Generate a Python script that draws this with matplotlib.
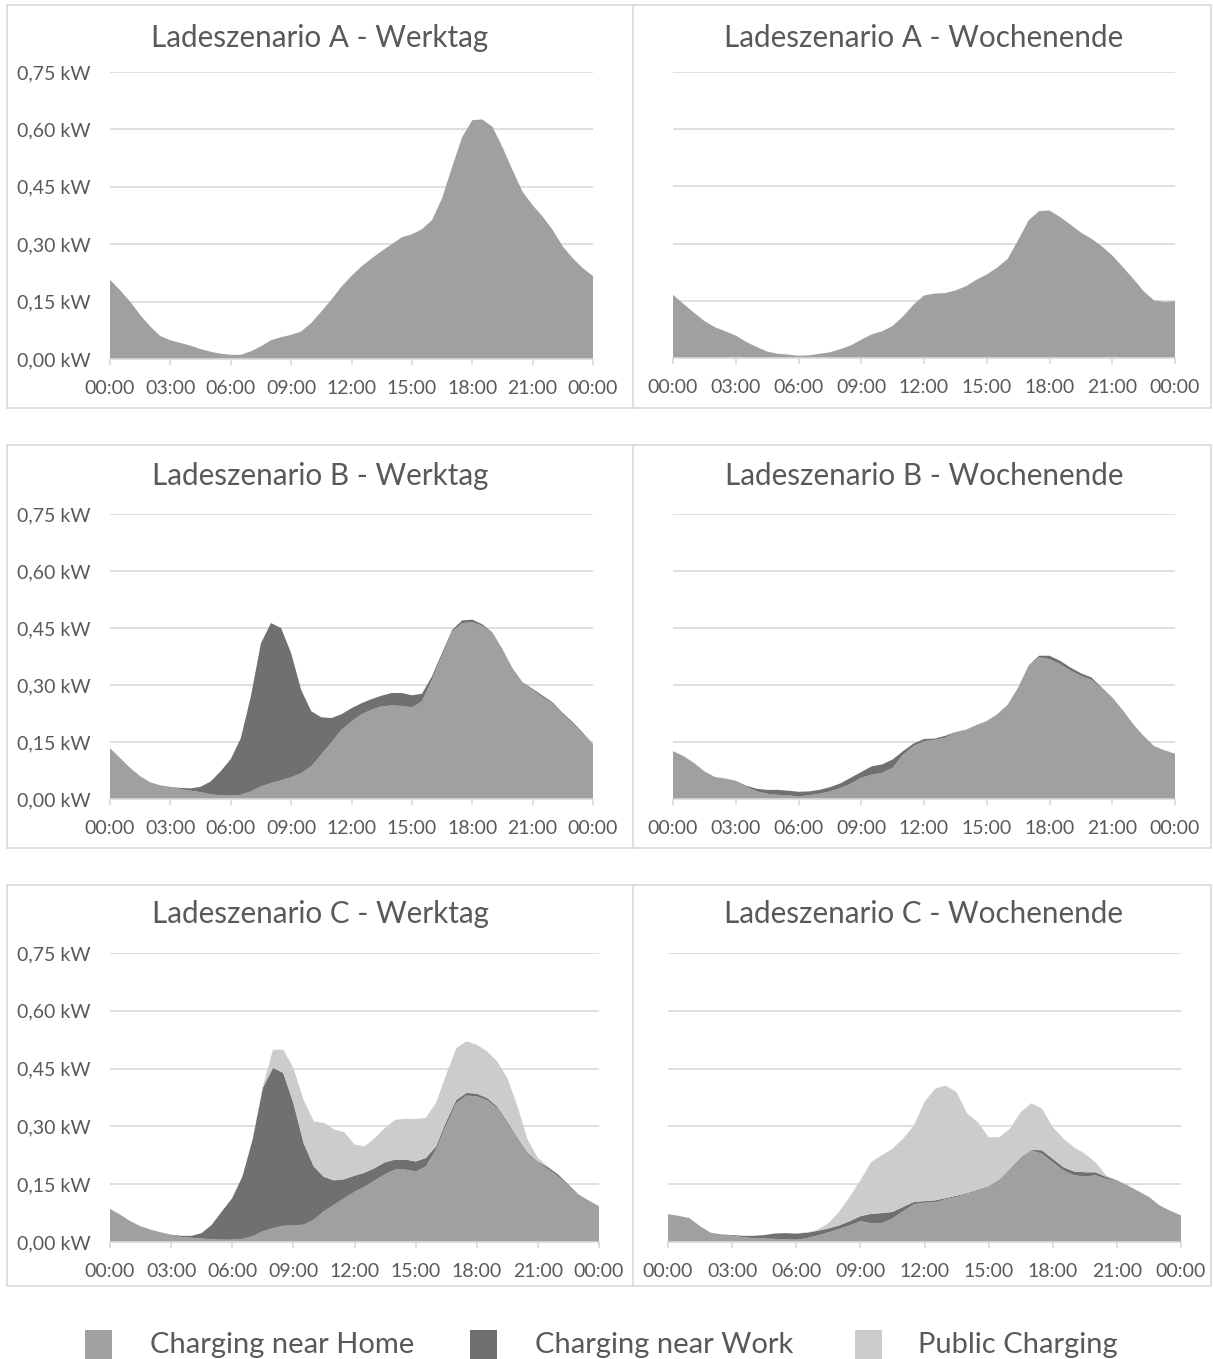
import matplotlib.pyplot as plt
from matplotlib.patches import Rectangle
from matplotlib.lines import Line2D
import numpy as np

plt.rcParams['font.family'] = ['Lato', 'DejaVu Sans']

# Zeitachse: halbstündlich von 00:00 bis 24:00
hours = np.arange(0, 24.5, 0.5)
xtick_pos = [0, 3, 6, 9, 12, 15, 18, 21, 24]
xtick_labels = ["00:00", "03:00", "06:00", "09:00", "12:00", "15:00", "18:00", "21:00", "00:00"]
ytick_pos = [0.0, 0.15, 0.30, 0.45, 0.60, 0.75]
ytick_labels = ["0,00 kW", "0,15 kW", "0,30 kW", "0,45 kW", "0,60 kW", "0,75 kW"]

series_names = ["Charging near Home", "Charging near Work", "Public Charging"]
colors = ["#A0A0A0", "#707070", "#CCCCCC"]

# Ladeszenario A
a_werktag_home = [0.207, 0.18, 0.15, 0.115, 0.085, 0.06, 0.049, 0.042, 0.035, 0.026,
                  0.019, 0.014, 0.011, 0.011, 0.02, 0.033, 0.049, 0.057, 0.063, 0.072,
                  0.094, 0.124, 0.155, 0.189, 0.217, 0.242, 0.263, 0.282, 0.30, 0.318,
                  0.326, 0.339, 0.363, 0.42, 0.502, 0.58, 0.624, 0.626, 0.607, 0.554,
                  0.494, 0.437, 0.402, 0.372, 0.337, 0.294, 0.263, 0.237, 0.217]
a_wochenende_home = [0.166, 0.142, 0.119, 0.097, 0.081, 0.070, 0.059, 0.042, 0.029, 0.017,
                     0.011, 0.009, 0.006, 0.007, 0.011, 0.015, 0.023, 0.033, 0.048, 0.062,
                     0.070, 0.084, 0.109, 0.140, 0.164, 0.169, 0.170, 0.177, 0.188, 0.205,
                     0.219, 0.237, 0.260, 0.309, 0.361, 0.385, 0.387, 0.370, 0.350, 0.329,
                     0.313, 0.293, 0.269, 0.239, 0.208, 0.175, 0.151, 0.147, 0.149]

# Ladeszenario B
b_werktag_home = [0.134, 0.108, 0.082, 0.060, 0.044, 0.036, 0.032, 0.026, 0.022, 0.018,
                  0.012, 0.010, 0.009, 0.011, 0.020, 0.033, 0.042, 0.049, 0.057, 0.068,
                  0.086, 0.117, 0.149, 0.182, 0.204, 0.223, 0.235, 0.244, 0.246, 0.245,
                  0.241, 0.257, 0.314, 0.377, 0.441, 0.463, 0.465, 0.456, 0.436, 0.391,
                  0.343, 0.305, 0.287, 0.268, 0.251, 0.223, 0.198, 0.171, 0.145]
b_werktag_work = [0, 0, 0, 0, 0, 0, 0, 0.003, 0.006, 0.014,
                  0.034, 0.063, 0.096, 0.149, 0.250, 0.377, 0.421, 0.401, 0.327, 0.219,
                  0.145, 0.098, 0.064, 0.041, 0.035, 0.029, 0.028, 0.028, 0.033, 0.034,
                  0.032, 0.020, 0.009, 0.007, 0.004, 0.007, 0.007, 0.004, 0.002, 0.003,
                  0.001, 0.002, 0.003, 0.004, 0.003, 0.003, 0.004, 0.003, 0.0]
b_wochenende_home = [0.126, 0.113, 0.095, 0.073, 0.058, 0.054, 0.047, 0.033, 0.020, 0.014,
                     0.011, 0.010, 0.006, 0.010, 0.014, 0.020, 0.029, 0.040, 0.056, 0.064,
                     0.069, 0.082, 0.117, 0.139, 0.152, 0.156, 0.161, 0.175, 0.181, 0.192,
                     0.204, 0.222, 0.247, 0.292, 0.350, 0.373, 0.368, 0.355, 0.338, 0.324,
                     0.314, 0.291, 0.265, 0.233, 0.196, 0.165, 0.138, 0.127, 0.118]
b_wochenende_work = [0, 0, 0, 0, 0, 0, 0.001, 0.002, 0.007, 0.010,
                     0.013, 0.012, 0.013, 0.010, 0.010, 0.011, 0.012, 0.016, 0.015, 0.022,
                     0.022, 0.022, 0.009, 0.007, 0.006, 0.003, 0.005, 0.001, 0.001, 0.002,
                     0.001, 0.001, 0.001, 0.001, 0.001, 0.004, 0.009, 0.009, 0.008, 0.007,
                     0.006, 0.002, 0.002, 0.001, 0.001, 0.001, 0.001, 0.001, 0.001]

# Ladeszenario C
c_werktag_home = [0.086, 0.071, 0.054, 0.041, 0.032, 0.025, 0.018, 0.013, 0.011, 0.009,
                  0.007, 0.006, 0.006, 0.008, 0.015, 0.028, 0.036, 0.042, 0.043, 0.045,
                  0.058, 0.080, 0.097, 0.114, 0.130, 0.144, 0.160, 0.176, 0.188, 0.188,
                  0.183, 0.196, 0.240, 0.304, 0.361, 0.380, 0.378, 0.368, 0.348, 0.309,
                  0.266, 0.227, 0.207, 0.189, 0.170, 0.146, 0.121, 0.105, 0.093]
c_werktag_work = [0, 0, 0, 0, 0, 0, 0.001, 0.003, 0.005, 0.014,
                  0.038, 0.074, 0.108, 0.162, 0.251, 0.372, 0.416, 0.397, 0.318, 0.212,
                  0.138, 0.089, 0.063, 0.049, 0.042, 0.036, 0.032, 0.031, 0.026, 0.026,
                  0.026, 0.022, 0.008, 0.009, 0.008, 0.007, 0.007, 0.006, 0.004, 0.004,
                  0.004, 0.004, 0.002, 0.005, 0.005, 0.003, 0.002, 0.002, 0.0]
c_werktag_public = [0, 0, 0, 0, 0, 0, 0, 0, 0, 0,
                    0, 0, 0, 0, 0, 0.004, 0.047, 0.060, 0.091, 0.112,
                    0.117, 0.140, 0.132, 0.122, 0.081, 0.068, 0.078, 0.089, 0.103, 0.106,
                    0.110, 0.104, 0.113, 0.121, 0.134, 0.134, 0.127, 0.121, 0.117, 0.113,
                    0.082, 0.034, 0.009, 0.002, 0, 0, 0, 0, 0]
c_wochenende_home = [0.072, 0.068, 0.062, 0.041, 0.024, 0.020, 0.016, 0.013, 0.010, 0.009,
                     0.008, 0.007, 0.006, 0.010, 0.017, 0.025, 0.034, 0.043, 0.054, 0.049,
                     0.049, 0.061, 0.080, 0.098, 0.102, 0.103, 0.111, 0.117, 0.125, 0.134,
                     0.143, 0.160, 0.188, 0.218, 0.238, 0.229, 0.207, 0.186, 0.173, 0.170,
                     0.173, 0.164, 0.158, 0.147, 0.132, 0.117, 0.095, 0.081, 0.069]
c_wochenende_work = [0, 0, 0, 0, 0, 0, 0.002, 0.003, 0.006, 0.009,
                     0.014, 0.016, 0.016, 0.014, 0.012, 0.010, 0.009, 0.011, 0.013, 0.024,
                     0.026, 0.017, 0.011, 0.006, 0.004, 0.005, 0.003, 0.003, 0.002, 0.002,
                     0.002, 0.002, 0.002, 0.002, 0.001, 0.009, 0.009, 0.008, 0.010, 0.011,
                     0.008, 0.005, 0.002, 0, 0, 0, 0, 0, 0]
c_wochenende_public = [0, 0, 0, 0, 0, 0, 0, 0, 0, 0,
                       0, 0, 0.001, 0.001, 0.003, 0.013, 0.035, 0.063, 0.093, 0.134,
                       0.150, 0.164, 0.177, 0.198, 0.257, 0.290, 0.292, 0.269, 0.206, 0.175,
                       0.127, 0.110, 0.104, 0.117, 0.121, 0.108, 0.082, 0.074, 0.063, 0.048,
                       0.026, 0.004, 0, 0, 0, 0, 0, 0, 0]

W, H = 1213, 1359
text_col = "#595959"
grid_col = "#D9D9D9"

fig = plt.figure(figsize=(W / 100, H / 100), dpi=100)

def px_axes(x0, x1, ytop, ybot):
    return fig.add_axes([x0 / W, 1 - ybot / H, (x1 - x0) / W, (ybot - ytop) / H])

panels = [
    # (x0, x1, ytop, ybot, title_y, title, stacks, y-labels)
    (110, 593, 72, 359, 38, "Ladeszenario A - Werktag", [a_werktag_home], True),
    (673, 1175, 72, 358, 38, "Ladeszenario A - Wochenende", [a_wochenende_home], False),
    (110, 593, 514, 799, 476, "Ladeszenario B - Werktag", [b_werktag_home, b_werktag_work], True),
    (673, 1175, 514, 799, 476, "Ladeszenario B - Wochenende",
     [b_wochenende_home, b_wochenende_work], False),
    (110, 599, 953, 1242, 914, "Ladeszenario C - Werktag",
     [c_werktag_home, c_werktag_work, c_werktag_public], True),
    (668, 1181, 953, 1242, 914, "Ladeszenario C - Wochenende",
     [c_wochenende_home, c_wochenende_work, c_wochenende_public], False),
]

title_x = {True: 320, False: 924}

for x0, x1, ytop, ybot, ty, title, stacks, show_y in panels:
    ax = px_axes(x0, x1, ytop, ybot)
    ax.stackplot(hours, *stacks, colors=colors[:len(stacks)], linewidth=0, zorder=2)
    ax.set_xlim(0, 24)
    ax.set_ylim(0, 0.75)
    ax.set_xticks(xtick_pos)
    ax.set_xticklabels(xtick_labels)
    ax.set_yticks(ytick_pos)
    if show_y:
        ax.set_yticklabels(ytick_labels)
    else:
        ax.set_yticklabels([])
    ax.grid(axis='y', color=grid_col, linewidth=1.2, zorder=0)
    ax.set_axisbelow(True)
    for s in ['top', 'right', 'left']:
        ax.spines[s].set_visible(False)
    ax.spines['bottom'].set_color(grid_col)
    ax.spines['bottom'].set_linewidth(1.2)
    ax.spines['bottom'].set_zorder(3)
    ax.tick_params(axis='x', length=4, color=grid_col, width=1.2, pad=11,
                   labelsize=14, labelcolor=text_col)
    ax.tick_params(axis='y', length=0, pad=14, labelsize=14, labelcolor=text_col)
    ax.set_facecolor('none')
    fig.text(title_x[show_y] / W, 1 - ty / H, title,
             ha='center', va='center', fontsize=21.3, color=text_col)

# Rahmen um die drei Zeilen
for ytop, ybot in [(5, 408), (445, 848), (885, 1286)]:
    fig.patches.append(Rectangle((7 / W, 1 - ybot / H), (1211 - 7) / W, (ybot - ytop) / H,
                                 transform=fig.transFigure, fill=False,
                                 edgecolor=grid_col, linewidth=1.2))
    fig.lines.append(Line2D([633 / W, 633 / W], [1 - ybot / H, 1 - ytop / H],
                            transform=fig.transFigure, color=grid_col, linewidth=1.2))

# Legende
for name, col, sq_x, tx in zip(series_names, colors, [85, 470, 855], [150, 535, 918]):
    fig.patches.append(Rectangle((sq_x / W, 0), 27 / W, 29 / H, transform=fig.transFigure,
                                 facecolor=col, edgecolor='none'))
    fig.text(tx / W, 1 - 1345 / H, name, ha='left', va='center', fontsize=21, color=text_col)

fig.savefig("out.png", dpi=100)
